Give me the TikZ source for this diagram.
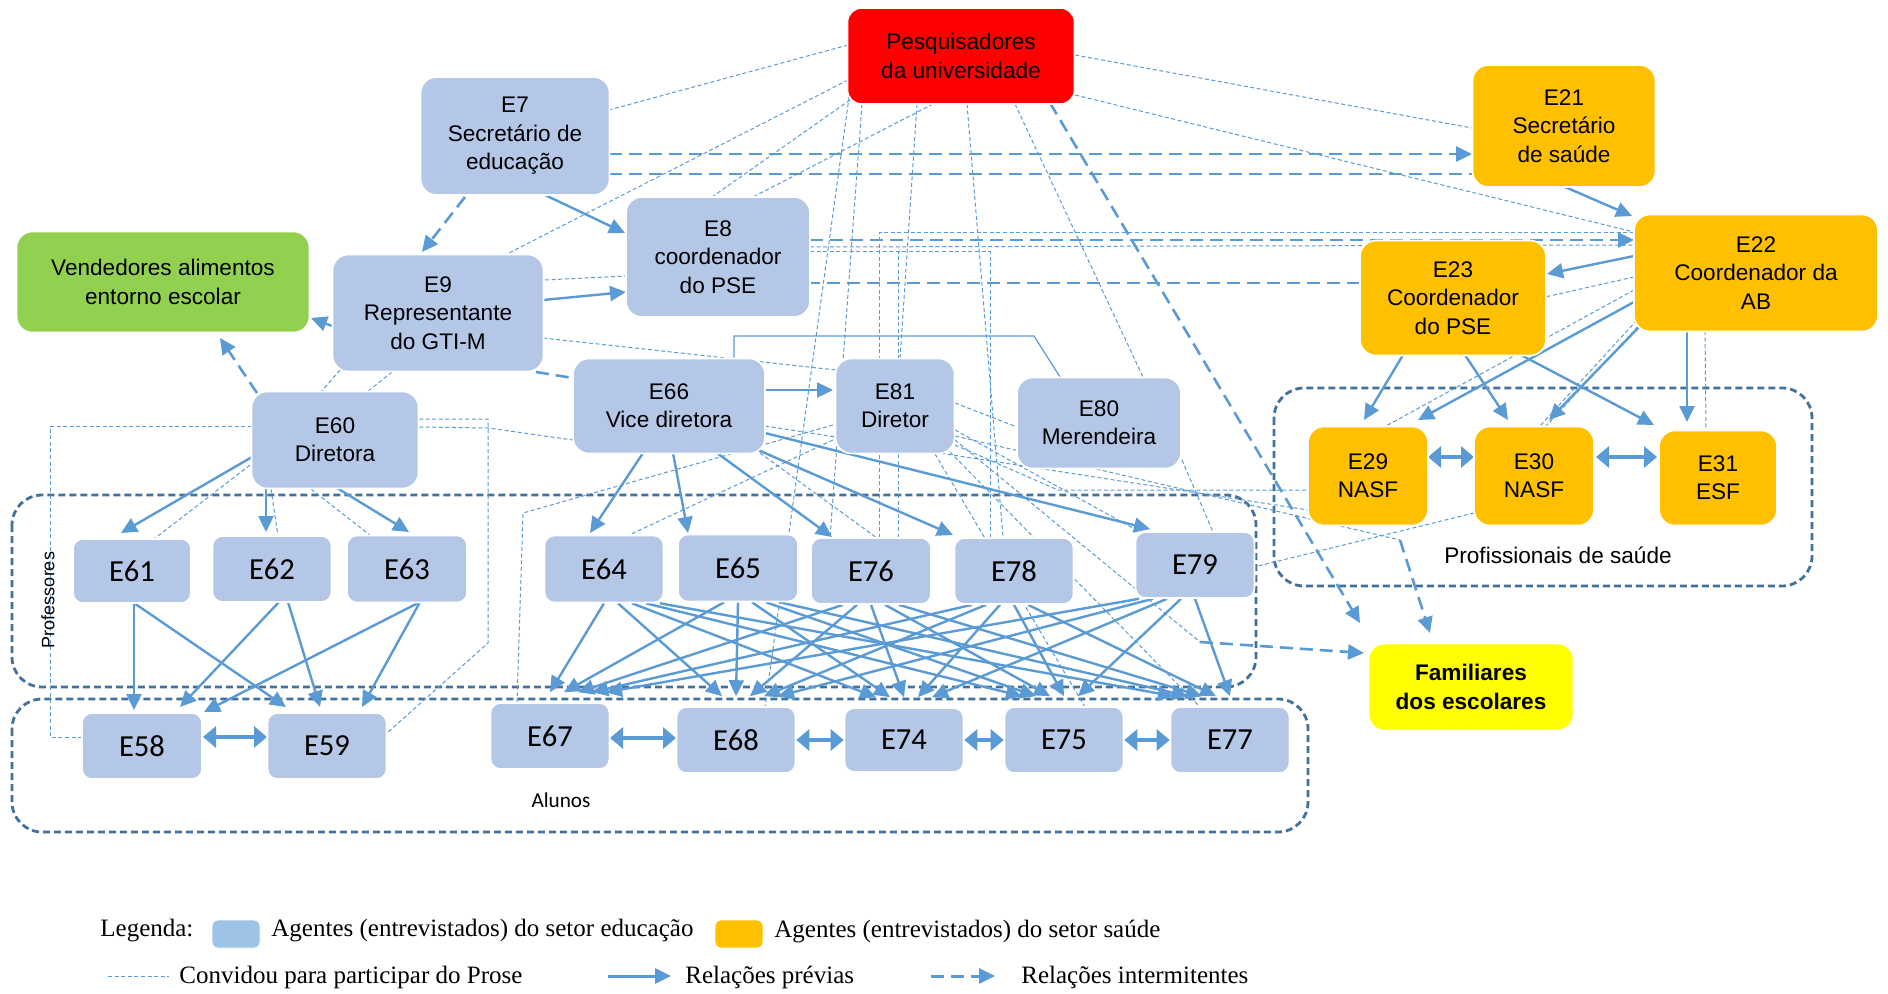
\documentclass[tikz,border=0pt]{standalone}
\usepackage{fontspec}
\setmainfont{Liberation Sans}
\newfontfamily\arialf{Liberation Sans}
\newfontfamily\calib{Carlito}
\newfontfamily\timesf{Liberation Serif}
\usetikzlibrary{arrows.meta,calc}
\pgfdeclarelayer{bg}
\pgfdeclarelayer{wires}
\pgfsetlayers{bg,wires,main}
\definecolor{eduBlue}{HTML}{B4C7E7}
\definecolor{legBlue}{HTML}{9DC3E6}
\definecolor{hOrange}{HTML}{FFC000}
\definecolor{pesqRed}{HTML}{FF0000}
\definecolor{vendGreen}{HTML}{92D050}
\definecolor{famYellow}{HTML}{FFFF00}
\definecolor{lineBlue}{HTML}{5B9BD5}
\definecolor{groupBlue}{HTML}{41719C}
\tikzset{
  sz/.style 2 args={minimum width=#1*0.5pt, minimum height=#2*0.5pt},
  agent/.style={draw=white, line width=0.8pt, rounded corners=8pt, inner sep=0pt,
    align=center, text=black, font=\arialf\fontsize{11.3}{14.2}\selectfont},
  edu/.style={agent, fill=eduBlue},
  hlt/.style={agent, fill=hOrange},
  small/.style={edu, rounded corners=5pt, font=\calib\fontsize{15.3}{18}\selectfont},
  tip/.tip={Triangle[length=8pt,width=7.5pt]},
  prev/.style={draw=lineBlue, line width=1.2pt, -tip},
  prevline/.style={draw=lineBlue, line width=0.6pt},
  inter/.style={draw=lineBlue, line width=1.3pt, dash pattern=on 6.5pt off 3.5pt, -tip},
  interline/.style={draw=lineBlue, line width=1.3pt, dash pattern=on 6.5pt off 3.5pt},
  invite/.style={draw=lineBlue, line width=0.5pt, dash pattern=on 2pt off 1.3pt},
  both/.style={draw=lineBlue, line width=1.9pt,
    {Triangle[length=6.5pt,width=10.5pt]}-{Triangle[length=6.5pt,width=10.5pt]}},
  group/.style={draw=groupBlue, line width=1.4pt, dash pattern=on 3.5pt off 2pt, rounded corners=15pt},
  legtext/.style={font=\timesf\fontsize{12.5}{14}\selectfont, inner sep=0pt, anchor=west},
}
\begin{document}
\begin{tikzpicture}[x=0.5pt,y=-0.5pt]
\useasboundingbox (0,0) rectangle (1888,994);

% ---------- agents ----------
\node[agent, fill=pesqRed, sz={227}{96}, rounded corners=7pt] (pesq) at (961,56) {Pesquisadores\\da universidade};
\node[edu, sz={189}{118}] (e7) at (515,136) {E7\\Secretário de\\educação};
\node[hlt, sz={183}{122}] (e21) at (1564,126) {E21\\Secretário\\de saúde};
\node[hlt, sz={244}{117}] (e22) at (1756,273) {E22\\Coordenador da\\AB};
\node[hlt, sz={186}{115}] (e23) at (1453,298) {E23\\Coordenador\\do PSE};
\node[edu, sz={184}{120}] (e8) at (718,257) {E8\\coordenador\\do PSE};
\node[agent, fill=vendGreen, sz={293}{101}] (vend) at (163,282) {Vendedores alimentos\\entorno escolar};
\node[edu, sz={211}{117}] (e9) at (438,313) {E9\\Representante\\do GTI-M};
\node[edu, sz={192}{95}] (e66) at (669,406) {E66\\Vice diretora};
\node[edu, sz={119}{95}] (e81) at (895,406) {E81\\Diretor};
\node[edu, sz={164}{91}] (e80) at (1099,423) {E80\\Merendeira};
\node[edu, sz={167}{97}] (e60) at (335,440) {E60\\Diretora};
\node[hlt, sz={120}{99}] (e29) at (1368,476) {E29\\NASF};
\node[hlt, sz={120}{99}] (e30) at (1534,476) {E30\\NASF};
\node[hlt, sz={118}{95}] (e31) at (1718,478) {E31\\ESF};
\node[agent, fill=famYellow, sz={205}{87}, font=\arialf\bfseries\fontsize{11.3}{14.2}\selectfont] (fam) at (1471,687) {Familiares\\dos escolares};

% teachers
\node[small, sz={118}{64}] (e61) at (132,571) {E61};
\node[small, sz={119}{66}] (e62) at (272,569) {E62};
\node[small, sz={120}{67}] (e63) at (407,569) {E63};
\node[small, sz={119}{67}] (e64) at (604,569) {E64};
\node[small, sz={120}{67}] (e65) at (738,568) {E65};
\node[small, sz={120}{66}] (e76) at (871,571) {E76};
\node[small, sz={119}{66}] (e78) at (1014,571) {E78};
\node[small, sz={119}{66}] (e79) at (1195,565) {E79};
% students
\node[small, sz={120}{66}] (e58) at (142,746) {E58};
\node[small, sz={119}{66}] (e59) at (327,746) {E59};
\node[small, sz={119}{66}] (e67) at (550,736) {E67};
\node[small, sz={119}{66}] (e68) at (736,740) {E68};
\node[small, sz={119}{64}] (e74) at (904,740) {E74};
\node[small, sz={119}{66}] (e75) at (1064,740) {E75};
\node[small, sz={119}{66}] (e77) at (1230,740) {E77};

% group labels
\node[font=\arialf\fontsize{9}{10}\selectfont, rotate=90] (lprof) at (48,600) {Professores};
\node[font=\calib\fontsize{10.6}{12}\selectfont] (lalun) at (561,800) {Alunos};
\node[font=\arialf\fontsize{11.3}{13}\selectfont] (lsaude) at (1558,555) {Profissionais de saúde};

\coordinate (fb1) at (1400,540);
\coordinate (fb2) at (1200,642);

% ---------- groups ----------
\begin{pgfonlayer}{bg}
\fill[white] (0,0) rectangle (1888,994);
\draw[group] (12,495) rectangle (1256,687);
\draw[group] (12,699) rectangle (1308,832);
\draw[group] (1274,388) rectangle (1812,586);
\end{pgfonlayer}

\begin{pgfonlayer}{wires}
% ---------- invitations ----------
\draw[invite] ($(pesq)+(-113,-11)$) -- ($(e7)+(94,-26)$);
\draw[invite] ($(pesq)+(-113,24)$) -- ($(e9)+(67,-58)$);
\draw[invite] ($(pesq)+(-111,44)$) -- ($(e8)+(-6,-60)$);
\draw[invite] ($(pesq)+(-28,48)$) -- ($(e8)+(35,-60)$);
\draw[invite] ($(pesq)+(114,-1)$) -- ($(e21)+(-92,2)$);
\draw[invite] ($(pesq)+(114,39)$) -- ($(e22)+(-122,-41)$);
\draw[invite] ($(pesq)+(54,48)$) -- ($(e80)+(44,-46)$);
\draw[invite] ($(pesq)+(6,48)$) -- ($(e78)+(-11,-34)$);
\draw[invite] ($(pesq)+(-44,48)$) -- ($(e81)+(5,-47)$);
\draw[invite] ($(pesq)+(-111,34)$) -- ($(e68)+(29,-33)$);
\draw[invite] ($(pesq)+(-99,48)$) -- ($(e76)+(-41,-33)$);
\draw[invite] ($(e76)+(8,-33)$) |- ($(e22)+(-122,-40)$);
\draw[invite] ($(e8)+(92,-10)$) -- ($(e22)+(-122,-28)$);
\draw[invite] ($(e8)+(92,-5)$) -| ($(e76)+(27,-33)$);
\draw[invite] ($(e8)+(92,-5)$) -| ($(e78)+(-24,-34)$);
\draw[invite] ($(e9)+(107,-33)$) -- ($(e8)+(-92,19)$);
\draw[invite] ($(e9)+(105,25)$) -- ($(e81)+(-59,-36)$);
\draw[invite] ($(e9)+(-98,57)$) -- ($(e60)+(-14,-48)$);
\draw[invite] ($(e9)+(-46,59)$) -- ($(e60)+(32,-48)$);
\draw[invite] ($(e60)+(-83,-14)$) -- ++(-202,0) |- ($(e58)+(-60,-9)$);
\draw[invite] ($(e60)+(84,-21)$) -- ++(69,0) -- ++(0,224) -- ($(e59)+(60,-13)$);
\draw[invite] ($(e60)+(84,-13)$) -- ++(69,1) -- ($(e66)+(-96,34)$);
\draw[invite] ($(e60)+(-85,25)$) -- ($(e61)+(22,-32)$);
\draw[invite] ($(e60)+(-64,49)$) -- ($(e62)+(6,-33)$);
\draw[invite] ($(e60)+(-24,49)$) -- ($(e63)+(-36,-33)$);
\draw[invite] ($(e81)+(-62,34)$) -- ($(e64)+(23,-33)$);
\draw[invite] ($(e81)+(-62,19)$) -- ($(e67)+(-27,-223)$) -- ($(e67)+(-33,-33)$);
\draw[invite] ($(e81)+(60,-3)$) -- ($(e80)+(-82,4)$);
\draw[invite] ($(e80)+(83,37)$) -- ($(e79)+(18,-33)$);
\draw[invite] ($(e81)+(60,39)$) -- ($(e29)+(-310,14)$) -- ($(e29)+(-60,14)$);
\draw[invite] ($(e30)+(-60,37)$) -- ($(e79)+(59,2)$);
\draw[invite] ($(e66)+(96,20)$) -- ($(e29)+(-60,34)$);
\draw[invite] ($(e81)+(60,24)$) -- ($(e79)+(-55,-33)$);
\draw[invite] ($(e81)+(55,46)$) -- ($(e77)+(-30,-33)$);
\draw[invite] ($(e81)+(40,48)$) -- ($(e75)+(21,-33)$);
\draw[invite] ($(e66)+(91,47)$) -- ($(e76)+(6,-33)$);
\draw[invite] ($(e22)+(-122,4)$) -- ($(e23)+(92,-1)$);
\draw[invite] ($(e22)+(-122,17)$) -- ($(e29)+(18,-50)$);
\draw[invite] ($(e22)+(-119,47)$) -- ($(e30)+(6,-50)$);
\draw[invite] ($(e22)+(-114,49)$) -- ($(e30)+(12,-50)$);
\draw[invite] ($(e22)+(-51,58)$) -- ($(e31)+(-12,-48)$);
\draw[invite] ($(e81)+(60,30)$) -- (fb1);
\draw[invite] ($(e81)+(60,34)$) -- (fb2);

% ---------- intermittent relations ----------
\draw[inter] ($(e7)+(-50,61)$) -- ($(e9)+(-16,-61)$);
\draw[inter] ($(e7)+(94,18)$) -- ($(e21)+(-92,28)$);
\draw[interline] ($(e7)+(94,38)$) -- ($(e21)+(-92,48)$);
\draw[inter] ($(e8)+(92,-17)$) -- ($(e22)+(-122,-33)$);
\draw[interline] ($(e23)+(-93,-15)$) -- ($(e8)+(92,26)$);
\draw[interline] ($(e9)+(98,59)$) -- ($(e66)+(-96,-28)$);
\draw[inter] ($(e60)+(-78,-47)$) -- ($(vend)+(57,56)$);
\draw[inter] ($(pesq)+(89,47)$) -- ($(fam)+(-111,-64)$);
\draw[inter] (fb1) -- ($(fam)+(-41,-54)$);
\draw[inter] (fb2) -- ($(fam)+(-107,-34)$);

% ---------- previous relations ----------
\draw[prev] ($(e7)+(30,59)$) -- ($(e8)+(-93,-24)$);
\draw[prev] ($(e9)+(105,-13)$) -- ($(e8)+(-92,35)$);
\draw[prev] ($(e9)+(-106,13)$) -- ($(vend)+(148,36)$);
\draw[prev] ($(e21)+(1,61)$) -- ($(e22)+(-124,-57)$);
\draw[prev] ($(e22)+(-122,-17)$) -- ($(e23)+(94,-24)$);
\draw[prev] ($(e22)+(-122,29)$) -- ($(e29)+(50,-56)$);
\draw[prev] ($(e22)+(-117,54)$) -- ($(e30)+(15,-56)$);
\draw[prev] ($(e22)+(-69,58)$) -- ($(e31)+(-31,-56)$);
\draw[prev] ($(e23)+(-50,57)$) -- ($(e29)+(-4,-56)$);
\draw[prev] ($(e23)+(12,57)$) -- ($(e30)+(-26,-56)$);
\draw[prev] ($(e23)+(68,57)$) -- ($(e31)+(-64,-53)$);
\draw[both] ($(e29)+(60,-19)$) -- ($(e30)+(-60,-19)$);
\draw[both] ($(e30)+(62,-19)$) -- ($(e31)+(-61,-21)$);
\draw[prev] ($(e66)+(96,-16)$) -- ($(e81)+(-62,-16)$);
\draw[prevline] ($(e66)+(65,-47)$) |- ($(e80)+(-65,-87)$) -- ($(e80)+(-39,-46)$);
\draw[prev] ($(e66)+(-26,47)$) -- ($(e64)+(-14,-36)$);
\draw[prev] ($(e66)+(4,47)$) -- ($(e65)+(-50,-35)$);
\draw[prev] ($(e66)+(48,47)$) -- ($(e76)+(-39,-34)$);
\draw[prev] ($(e66)+(89,44)$) -- ($(e78)+(-61,-36)$);
\draw[prev] ($(e66)+(96,27)$) -- ($(e79)+(-45,-36)$);
\draw[prev] ($(e60)+(-83,17)$) -- ($(e61)+(-11,-38)$);
\draw[prev] ($(e60)+(-69,48)$) -- ($(e62)+(-6,-37)$);
\draw[prev] ($(e60)+(2,48)$) -- ($(e63)+(2,-37)$);
\draw[prev] ($(e61)+(2,32)$) -- ($(e58)+(-8,-36)$);
\draw[prev] ($(e61)+(2,32)$) -- ($(e59)+(-41,-39)$);
\draw[prev] ($(e62)+(7,33)$) -- ($(e58)+(38,-39)$);
\draw[prev] ($(e62)+(16,33)$) -- ($(e59)+(-7,-39)$);
\draw[prev] ($(e63)+(13,33)$) -- ($(e58)+(62,-34)$);
\draw[prev] ($(e63)+(13,33)$) -- ($(e59)+(35,-39)$);
\draw[both] ($(e58)+(61,-9)$) -- ($(e59)+(-60,-9)$);
\foreach \tn [count=\i from 0] in {e64,e65,e76,e78,e79} {
  \foreach \sn [count=\j from 0] in {e67,e68,e74,e75,e77} {
    \draw[prev] ($(\tn.south)+({(\j-\i)*14},0)$) -- ($(\sn.north)+({(\i-\j)*14},-10)$);
  }
}
\draw[both] ($(e67)+(60,2)$) -- ($(e68)+(-60,-2)$);
\draw[both] (e68.east) -- (e74.west);
\draw[both] (e74.east) -- (e75.west);
\draw[both] (e75.east) -- (e77.west);
\end{pgfonlayer}

% ---------- legend ----------
\node[legtext] (lg0) at (100,931) {Legenda:};
\node[draw=white, fill=legBlue, rounded corners=3pt, sz={48}{28}] (lgs1) at (236,934) {};
\node[legtext] (lg1) at (271,931) {Agentes (entrevistados) do setor educação};
\node[draw=white, fill=hOrange, rounded corners=3pt, sz={48}{28}] (lgs2) at (739,934) {};
\node[legtext] (lg2) at (774,931) {Agentes (entrevistados) do setor saúde};
\coordinate (la1) at (108,976);
\coordinate (la2) at (169,976);
\draw[invite] (la1) -- (la2);
\node[legtext] (lg3) at (179,977) {Convidou para participar do Prose};
\coordinate (lb1) at (608,976);
\coordinate (lb2) at (671,976);
\draw[prev, line width=1.5pt] (lb1) -- (lb2);
\node[legtext] (lg4) at (685,977) {Relações prévias};
\coordinate (lc1) at (931,976);
\coordinate (lc2) at (995,976);
\draw[inter, line width=1.5pt] (lc1) -- (lc2);
\node[legtext] (lg5) at (1021,977) {Relações intermitentes};
\end{tikzpicture}
\end{document}
